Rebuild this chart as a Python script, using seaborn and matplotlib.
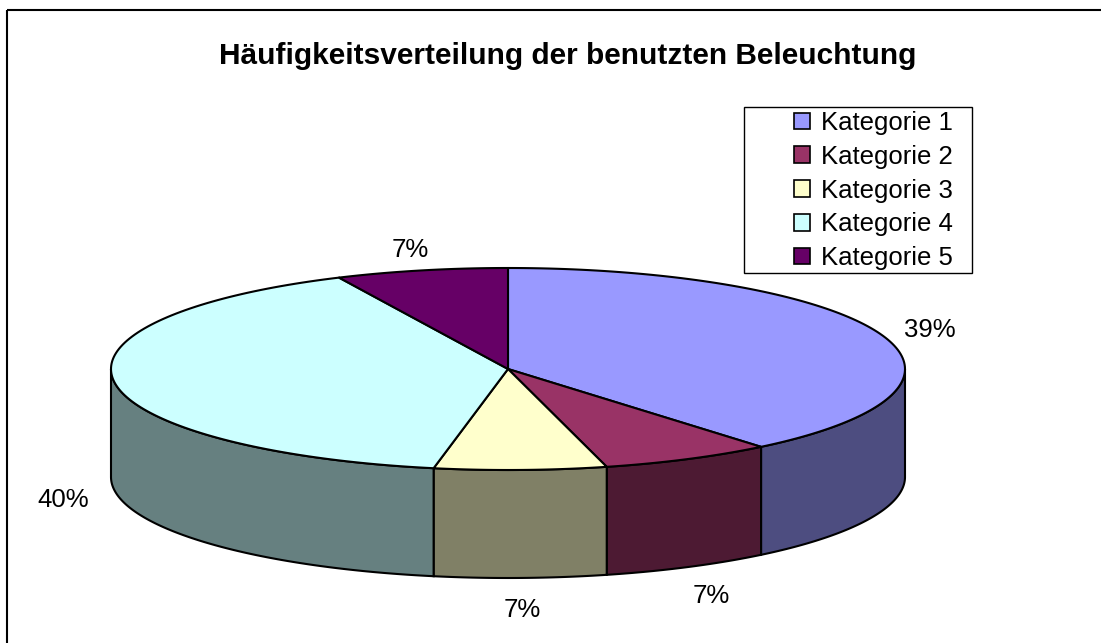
import numpy as np
import matplotlib
matplotlib.use("Agg")
import matplotlib.pyplot as plt
import seaborn as sns
from matplotlib.patches import Polygon, Patch, Rectangle

# Daten
kategorien = ['Kategorie 1', 'Kategorie 2', 'Kategorie 3', 'Kategorie 4', 'Kategorie 5']
anteile = [39, 7, 7, 40, 7]
farben_oben = ['#9999FF', '#993366', '#FFFFCC', '#CCFFFF', '#660066']
farben_seite = ['#4D4D80', '#4D1A33', '#808066', '#668080', '#330033']
titel = 'Häufigkeitsverteilung der benutzten Beleuchtung'

sns.set_theme(style='white')
plt.rcParams['font.family'] = ['Liberation Sans', 'DejaVu Sans']
plt.rcParams['text.color'] = 'black'

fig = plt.figure(figsize=(11.01, 6.43), dpi=100)
ax = fig.add_axes([0, 0, 1, 1])
ax.set_xlim(0, 1101)
ax.set_ylim(643, 0)
ax.axis('off')

# Geometrie der 3D-Torte (Pixel)
cx, cy = 508, 369
rx, ry = 397, 101
tiefe = 108
lw = 1.5


def bogen(a0, a1, n=120, dy=0):
    t = np.radians(np.linspace(a0, a1, n))
    return np.column_stack([cx + rx * np.cos(t), cy - ry * np.sin(t) + dy])


# Winkel: Start bei 12 Uhr, im Uhrzeigersinn
werte = np.array(anteile, dtype=float)
grenzen = 90 - 360 * np.concatenate([[0], np.cumsum(werte) / werte.sum()])

# Seitenwände (nur vordere Hälfte sichtbar)
for i in range(len(werte)):
    a_start, a_ende = grenzen[i], grenzen[i + 1]
    hi = min(a_start, 0)
    lo = max(a_ende, -180)
    if lo < hi:
        oben = bogen(hi, lo)
        unten = bogen(lo, hi, dy=tiefe)
        ax.add_patch(Polygon(np.vstack([oben, unten]), closed=True,
                             facecolor=farben_seite[i], edgecolor='black', lw=lw))

# Deckfläche
for i in range(len(werte)):
    pts = np.vstack([[cx, cy], bogen(grenzen[i], grenzen[i + 1])])
    ax.add_patch(Polygon(pts, closed=True, facecolor=farben_oben[i],
                         edgecolor='black', lw=lw, joinstyle='round'))

# Prozent-Beschriftungen
for i in range(len(werte)):
    mitte = np.radians((grenzen[i] + grenzen[i + 1]) / 2)
    lx = cx + rx * 1.13 * np.cos(mitte)
    ly = cy - ry * 1.25 * np.sin(mitte)
    if np.sin(mitte) < 0:
        ly += tiefe + 7
    else:
        ly += 4
    ax.text(lx, ly, f'{anteile[i]:.0f}%', fontsize=18.5, ha='center', va='center',
            color='black')

# Titel
ax.text(568, 56, titel, fontsize=21.5, fontweight='bold', ha='center', va='center',
        color='black')

# Rahmen des Diagrammbereichs
ax.add_patch(Rectangle((7, 10), 1200, 700, fill=False, edgecolor='black', lw=1.5))

# Legende (Rahmen separat, da links viel Luft ist)
ax.add_patch(Rectangle((744, 107), 228, 166, fill=False, edgecolor='black', lw=1.0))
handles = [Patch(facecolor=farben_oben[i], edgecolor='black', lw=1.2, label=kategorien[i])
           for i in range(len(kategorien))]
leg = ax.legend(handles=handles, loc='upper left', bbox_to_anchor=(794 / 1101, 1 - 111 / 643),
                bbox_transform=fig.transFigure, frameon=False, fontsize=18.5,
                handlelength=0.62, handleheight=0.62, handletextpad=0.45,
                labelspacing=0.38, borderpad=0, borderaxespad=0, labelcolor='black')

fig.savefig('out.png', dpi=100, facecolor='white')
